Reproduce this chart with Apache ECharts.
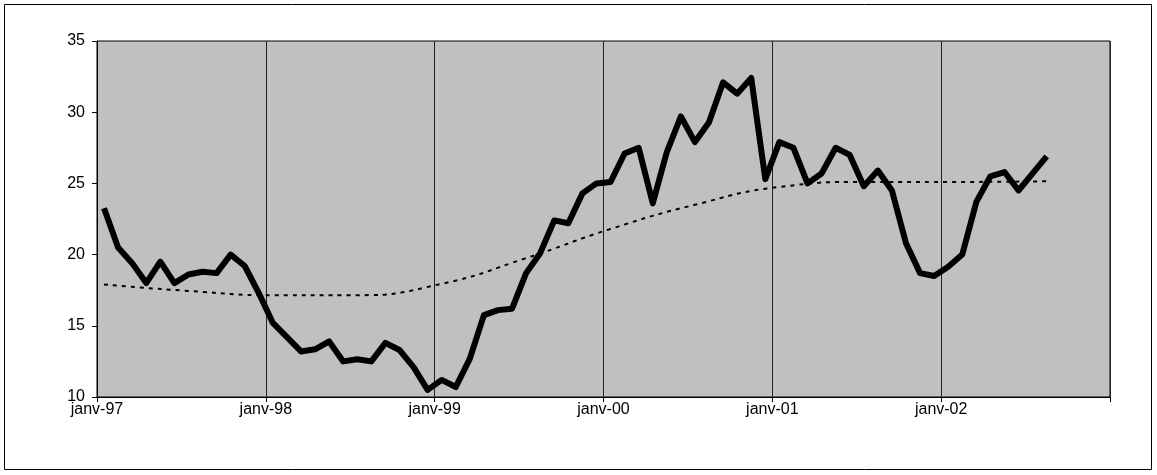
<!DOCTYPE html>
<html><head><meta charset="utf-8">
<script src="https://cdn.jsdelivr.net/npm/echarts@6/dist/echarts.min.js"></script>
<style>html,body{margin:0;background:#fff}#container{width:1157px;height:475px}</style>
</head><body><div id="container"></div>
<script>
var yearLabels = ['janv-97', 'janv-98', 'janv-99', 'janv-00', 'janv-01', 'janv-02', ''];
// monthly values, Jan 1997 .. Aug 2002
var values = [
  23.25, 20.5, 19.4, 18.0, 19.5, 18.0, 18.6, 18.8, 18.7, 20.0, 19.2, 17.3,
  15.2, 14.2, 13.2, 13.35, 13.9, 12.5, 12.65, 12.5, 13.8, 13.3, 12.1, 10.5,
  11.2, 10.7, 12.7, 15.75, 16.1, 16.2, 18.7, 20.1, 22.4, 22.2, 24.3, 25.0,
  25.1, 27.1, 27.5, 23.6, 27.2, 29.7, 27.9, 29.3, 32.1, 31.3, 32.4, 25.3,
  27.9, 27.5, 25.0, 25.7, 27.5, 27.0, 24.8, 25.9, 24.5, 20.8, 18.7, 18.5,
  19.15, 20.0, 23.7, 25.5, 25.8, 24.5, 25.7, 26.9
];
// trend line read at half-year points (month index)
var trendMonths = [0, 6, 12, 18, 24, 30, 36, 42, 48, 54, 60, 67];
var trendValues = [17.9, 17.45, 17.15, 17.15, 17.95, 19.75, 21.8, 23.5, 24.75, 25.1, 25.1, 25.15];

var chart = echarts.init(document.getElementById('container'), null, { renderer: 'canvas' });
var font = 'Liberation Sans, Arial, sans-serif';
chart.setOption({
  animation: false,
  graphic: [{ type: 'rect', shape: { x: 4.5, y: 4.5, width: 1147, height: 465 },
    style: { fill: 'none', stroke: '#000', lineWidth: 1 } }],
  grid: { left: 97, right: 47, top: 41, bottom: 78, backgroundColor: '#c0c0c0',
    show: true, borderColor: '#000', borderWidth: 1 },
  xAxis: {
    type: 'value', min: 0, max: 72, interval: 12,
    axisLine: { lineStyle: { color: '#000' } },
    axisTick: { show: true, length: 5, lineStyle: { color: '#000' } },
    splitLine: { show: true, lineStyle: { color: '#222', width: 1 } },
    axisLabel: { color: '#000', fontFamily: font, fontSize: 16, margin: 5,
      formatter: function (v) { return yearLabels[v / 12]; } }
  },
  yAxis: {
    type: 'value', min: 10, max: 35, interval: 5,
    axisLine: { show: true, lineStyle: { color: '#000' } },
    axisTick: { show: true, length: 5, lineStyle: { color: '#000' } },
    splitLine: { show: false },
    axisLabel: { color: '#000', fontFamily: font, fontSize: 16, margin: 12 }
  },
  series: [
    { type: 'line', symbol: 'none', smooth: true,
      data: trendMonths.map(function (m, i) { return [m + 0.5, trendValues[i]]; }),
      lineStyle: { color: '#000', width: 2, type: [4, 5] } },
    { type: 'line', symbol: 'none',
      data: values.map(function (v, i) { return [i + 0.5, v]; }),
      lineStyle: { color: '#000', width: 6, join: 'round' } }
  ]
});
</script></body></html>
